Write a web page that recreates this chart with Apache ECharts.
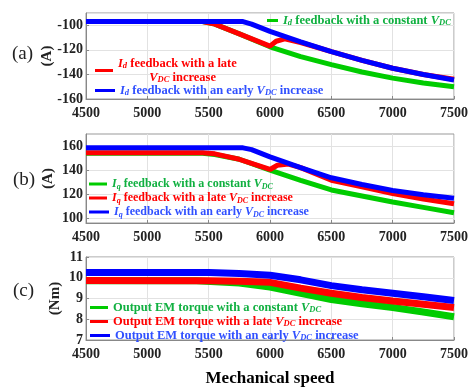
<!DOCTYPE html>
<html>
<head>
<meta charset="utf-8">
<script src="https://cdn.jsdelivr.net/npm/echarts@6/dist/echarts.min.js"></script>
<style>
  html, body { margin: 0; padding: 0; background: #fff; }
  #chart { width: 475px; height: 388px; }
</style>
</head>
<body>
<div id="chart"></div>
<script>
// (a) Id feedback (A)
const aConstX = [4500, 5450, 5550, 5750, 6000, 6250, 6500, 6750, 7000, 7250, 7500];
const aConstY = [-97, -97, -99, -107, -117.5, -125.5, -132, -138, -143, -147, -150];
const aLateX = [4500, 5450, 5550, 5750, 6000, 6050, 6120, 6250, 6500, 6750, 7000, 7250, 7500];
const aLateY = [-97, -97, -99, -107, -117, -113, -111, -114, -121.5, -128.5, -135, -140, -144];
const aEarlyX = [4500, 5780, 5850, 6000, 6250, 6500, 6750, 7000, 7250, 7500];
const aEarlyY = [-97, -97, -99, -105, -113.5, -121.5, -128.5, -135, -140, -144.5];

// (b) Iq feedback (A)
const bConstX = [4500, 5450, 5550, 5750, 6000, 6250, 6500, 6750, 7000, 7250, 7500];
const bConstY = [154, 154, 153, 149, 140, 131.5, 123.5, 118.5, 113.5, 109, 104.5];
const bLateX = [4500, 5450, 5550, 5750, 6000, 6060, 6150, 6250, 6500, 6750, 7000, 7250, 7500];
const bLateY = [154.5, 154.5, 153.5, 149, 140.5, 144, 145, 142, 131.5, 126, 120.5, 116, 112];
const bEarlyX = [4500, 5780, 5850, 6000, 6250, 6500, 6750, 7000, 7250, 7500];
const bEarlyY = [158.5, 158.5, 157, 151, 142, 133.6, 128, 123, 119.5, 116.5];
const bTicks = [100, 120, 140, 160];

// (c) output EM torque (Nm)
const cConstX = [4500, 5400, 5750, 6000, 6250, 6500, 6750, 7000, 7250, 7500];
const cConstY = [9.85, 9.85, 9.75, 9.55, 9.25, 8.95, 8.75, 8.57, 8.35, 8.12];
const cLateX = [4500, 5500, 5750, 6000, 6250, 6500, 6750, 7000, 7250, 7500];
const cLateY = [9.87, 9.85, 9.83, 9.78, 9.5, 9.25, 9.05, 8.88, 8.72, 8.57];
const cEarlyX = [4500, 5500, 5750, 6000, 6250, 6500, 6750, 7000, 7250, 7500];
const cEarlyY = [10.25, 10.25, 10.2, 10.12, 9.9, 9.62, 9.42, 9.25, 9.08, 8.9];

const serif = "'Liberation Serif', 'DejaVu Serif', serif";
const GREEN = '#00cc00', RED = '#ff0000', BLUE = '#0000ff';
const GREEN_TXT = '#10b040', RED_TXT = '#ff0000', BLUE_TXT = '#3050ff';

function pairs(xs, ys) {
  return xs.map(function (x, i) { return [x, ys[i]]; });
}

const legendText = {
  aConst: '{i|I}{s|d}{t| feedback with a constant }{i|V}{s|DC}',
  aLate: '{i|I}{s|d}{t| feedback with a late}\n{t|          }{i|V}{s|DC}{t| increase}',
  aEarly: '{i|I}{s|d}{t| feedback with an early }{i|V}{s|DC}{t| increase}',
  bConst: '{i|I}{s|q}{t| feedback with a constant }{i|V}{s|DC}',
  bLate: '{i|I}{s|q}{t| feedback with a late }{i|V}{s|DC}{t| increase}',
  bEarly: '{i|I}{s|q}{t| feedback with an early }{i|V}{s|DC}{t| increase}',
  cConst: '{t|Output EM torque with a constant }{i|V}{s|DC}',
  cLate: '{t|Output EM torque with a late }{i|V}{s|DC}{t| increase}',
  cEarly: '{t|Output EM torque with an early }{i|V}{s|DC}{t| increase}'
};

function rich(size) {
  return {
    i: { fontFamily: serif, fontStyle: 'italic', fontWeight: 'bold', fontSize: size },
    s: { fontFamily: serif, fontStyle: 'italic', fontWeight: 'bold', fontSize: size - 4,
         verticalAlign: 'bottom', padding: [5, 0, 0, 0] },
    t: { fontFamily: serif, fontWeight: 'bold', fontSize: size }
  };
}

function legend(name, color, left, top, width, size) {
  return {
    data: [{ name: name, icon: 'rect' }], left: left, top: top, orient: 'vertical',
    itemWidth: width, itemHeight: 3, itemGap: 0, padding: 0,
    selectedMode: false,
    formatter: function (n) { return legendText[n]; },
    textStyle: { color: color, fontFamily: serif, fontWeight: 'bold', fontSize: size, rich: rich(size) }
  };
}

const grids = [
  { left: 86, right: 21, top: 13, height: 86 },
  { left: 86, right: 21, top: 134, height: 89 },
  { left: 86, right: 21, top: 257, height: 90 }
];

const xAxes = grids.map(function (g, i) {
  return {
    type: 'value', gridIndex: i, min: 4500, max: 7500, interval: 500,
    name: i === 2 ? 'Mechanical speed' : '', nameLocation: 'middle', nameGap: 30,
    nameTextStyle: { fontFamily: serif, fontWeight: 'bold', fontSize: 17, color: '#000' },
    axisLine: { lineStyle: { color: '#888' } },
    axisTick: { inside: true, length: 3, lineStyle: { color: '#888' } },
    axisLabel: { fontFamily: serif, fontWeight: 'bold', fontSize: 14, color: '#222', margin: 7,
      formatter: function (v) { return String(v); } },
    splitLine: { show: true, lineStyle: { color: '#e2e2e2' } }
  };
});

function yAxis(i, cfg) {
  return Object.assign({
    type: 'value', gridIndex: i,
    nameLocation: 'middle', nameRotate: 90, nameMoveOverlap: false,
    nameTextStyle: { fontFamily: serif, fontWeight: 'bold', fontSize: 15, color: '#222' },
    axisLine: { show: true, lineStyle: { color: '#888' } },
    axisTick: { show: true, inside: true, length: 3, lineStyle: { color: '#888' } },
    axisLabel: { fontFamily: serif, fontWeight: 'bold', fontSize: 14, color: '#222', margin: 3 },
    splitLine: { show: true, lineStyle: { color: '#e2e2e2' } }
  }, cfg);
}

const yAxes = [
  yAxis(0, { min: -160, max: -90, interval: 20, name: '(A)', nameGap: 31 }),
  yAxis(1, { min: 96, max: 170, name: '(A)', nameGap: 30,
    axisTick: { show: true, inside: true, length: 3, lineStyle: { color: '#888' }, customValues: bTicks },
    axisLabel: { fontFamily: serif, fontWeight: 'bold', fontSize: 14, color: '#222', margin: 3, customValues: bTicks },
    splitLine: { show: true, lineStyle: { color: '#e2e2e2' }, customValues: bTicks } }),
  yAxis(2, { min: 7, max: 11, interval: 1, name: '(Nm)', nameGap: 23 })
];

function line(name, idx, xs, ys, color, w) {
  return {
    name: name, type: 'line', xAxisIndex: idx, yAxisIndex: idx,
    data: pairs(xs, ys), showSymbol: false, symbol: 'none',
    lineStyle: { color: color, width: w }, itemStyle: { color: color },
    silent: true
  };
}

const chart = echarts.init(document.getElementById('chart'), null, { renderer: 'canvas' });
chart.setOption({
  animation: false,
  backgroundColor: '#fff',
  grid: grids.map(function (g) {
    return Object.assign({ show: true, borderColor: '#999', borderWidth: 1, backgroundColor: 'transparent' }, g);
  }),
  xAxis: xAxes,
  yAxis: yAxes,
  legend: [
    legend('aConst', GREEN_TXT, 267, 14, 11, 12.5),
    legend('aLate', RED_TXT, 95, 57, 18, 12.5),
    legend('aEarly', BLUE_TXT, 95, 84, 20, 12.5),
    legend('bConst', GREEN_TXT, 89, 178, 18, 12),
    legend('bLate', RED_TXT, 89, 192, 18, 12),
    legend('bEarly', BLUE_TXT, 89, 206, 20, 12),
    legend('cConst', GREEN_TXT, 90, 301, 18, 12.5),
    legend('cLate', RED_TXT, 90, 315, 18, 12.5),
    legend('cEarly', BLUE_TXT, 90, 329, 20, 12.5)
  ],
  graphic: [
    { type: 'text', left: 12, top: 45, style: { text: '(a)', font: '19px ' + serif, fill: '#222' } },
    { type: 'text', left: 13, top: 171, style: { text: '(b)', font: '19px ' + serif, fill: '#222' } },
    { type: 'text', left: 13, top: 282, style: { text: '(c)', font: '19px ' + serif, fill: '#222' } }
  ],
  series: [
    line('aConst', 0, aConstX, aConstY, GREEN, 5),
    line('aLate', 0, aLateX, aLateY, RED, 5),
    line('aEarly', 0, aEarlyX, aEarlyY, BLUE, 5),
    line('bConst', 1, bConstX, bConstY, GREEN, 5),
    line('bLate', 1, bLateX, bLateY, RED, 5),
    line('bEarly', 1, bEarlyX, bEarlyY, BLUE, 5),
    line('cConst', 2, cConstX, cConstY, GREEN, 7),
    line('cLate', 2, cLateX, cLateY, RED, 7),
    line('cEarly', 2, cEarlyX, cEarlyY, BLUE, 7)
  ]
});
</script>
</body>
</html>
